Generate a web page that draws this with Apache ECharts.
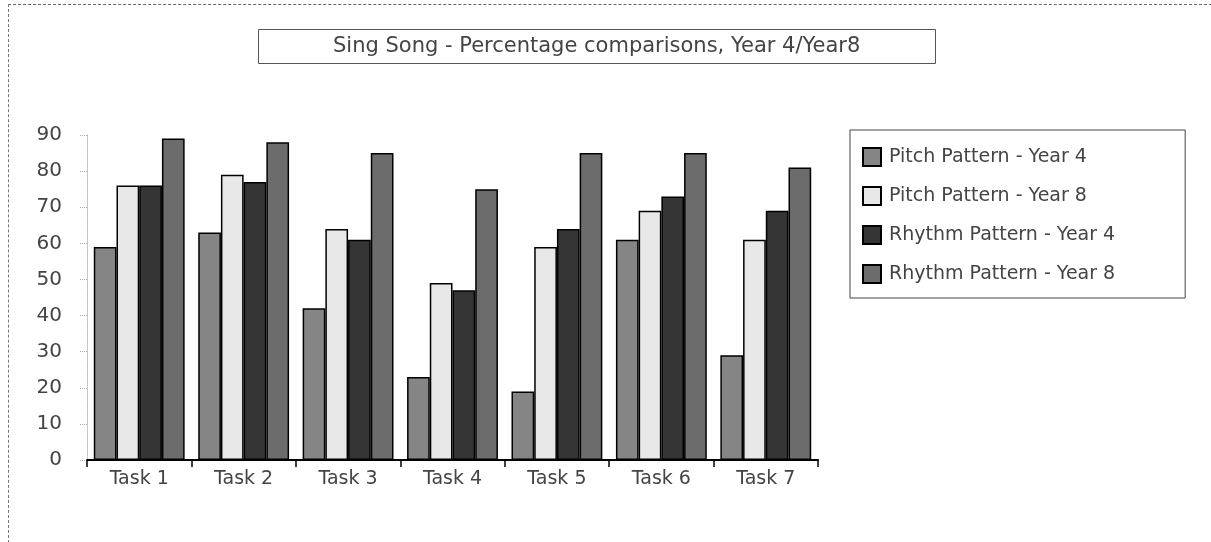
<!DOCTYPE html>
<html>
<head>
<meta charset="utf-8">
<script src="https://cdn.jsdelivr.net/npm/echarts@6/dist/echarts.min.js"></script>
<style>
  html, body { margin: 0; padding: 0; background: #fff; }
  #frame {
    position: absolute; left: 8px; top: 4px; width: 1203px; height: 538px;
    border-left: 1px dashed #777; border-top: 1px dashed #666;
  }
  #chart { position: absolute; left: 0; top: 0; width: 1211px; height: 542px; }
</style>
</head>
<body>
<div id="frame"></div>
<div id="chart"></div>
<script>
// values
const categories = ['Task 1', 'Task 2', 'Task 3', 'Task 4', 'Task 5', 'Task 6', 'Task 7']
const pitchYear4 = [59, 63, 42, 23, 19, 61, 29]
const pitchYear8 = [76, 79, 64, 49, 59, 69, 61]
const rhythmYear4 = [76, 77, 61, 47, 64, 73, 69]
const rhythmYear8 = [89, 88, 85, 75, 85, 85, 81]
const seriesNames = ['Pitch Pattern - Year 4', 'Pitch Pattern - Year 8', 'Rhythm Pattern - Year 4', 'Rhythm Pattern - Year 8']
const yTicks = [0, 10, 20, 30, 40, 50, 60, 70, 80, 90]

const colors = ['#858585', '#e8e8e8', '#353535', '#6c6c6c']
const fontFamily = 'DejaVu Sans'

const chart = echarts.init(document.getElementById('chart'))

function barSeries (name, data, color) {
  return {
    name: name,
    type: 'bar',
    barGap: '0%',
    barCategoryGap: '13%',
    data: data,
    itemStyle: {
      color: color,
      borderColor: '#000',
      borderWidth: 1.5
    }
  }
}

const option = {
  animation: false,
  title: {
    text: 'Sing Song - Percentage comparisons, Year 4/Year8',
    left: 258,
    top: 29,
    padding: [7, 75, 7, 75],
    borderColor: '#555',
    borderWidth: 1,
    textStyle: {
      fontFamily: fontFamily,
      fontSize: 21,
      fontWeight: 'normal',
      color: '#444'
    }
  },
  legend: {
    orient: 'vertical',
    left: 850,
    top: 130,
    padding: [17, 70, 14, 12],
    itemGap: 19,
    itemWidth: 18,
    itemHeight: 18,
    icon: 'rect',
    borderColor: '#444',
    borderWidth: 1,
    data: seriesNames,
    textStyle: {
      fontFamily: fontFamily,
      fontSize: 19,
      color: '#444',
      padding: [0, 0, 0, 3]
    }
  },
  grid: {
    left: 87,
    right: 393,
    top: 135,
    bottom: 82
  },
  xAxis: {
    type: 'category',
    data: categories,
    axisLine: { lineStyle: { color: '#000', width: 2 } },
    axisTick: { show: true, length: 7, lineStyle: { color: '#000', width: 1.5 } },
    axisLabel: {
      margin: 10,
      fontFamily: fontFamily,
      fontSize: 19,
      color: '#444'
    }
  },
  yAxis: {
    type: 'value',
    min: yTicks[0],
    max: yTicks[yTicks.length - 1],
    interval: 10,
    axisLine: { show: true, lineStyle: { color: '#bbb', width: 1, type: 'dotted' } },
    axisTick: { show: true, length: 7, lineStyle: { color: '#aaa', type: 'dotted' } },
    splitLine: { show: false },
    axisLabel: {
      margin: 25,
      fontFamily: fontFamily,
      fontSize: 20,
      color: '#444'
    }
  },
  series: [
    barSeries(seriesNames[0], pitchYear4, colors[0]),
    barSeries(seriesNames[1], pitchYear8, colors[1]),
    barSeries(seriesNames[2], rhythmYear4, colors[2]),
    barSeries(seriesNames[3], rhythmYear8, colors[3])
  ]
}
chart.setOption(option)
</script>
</body>
</html>
